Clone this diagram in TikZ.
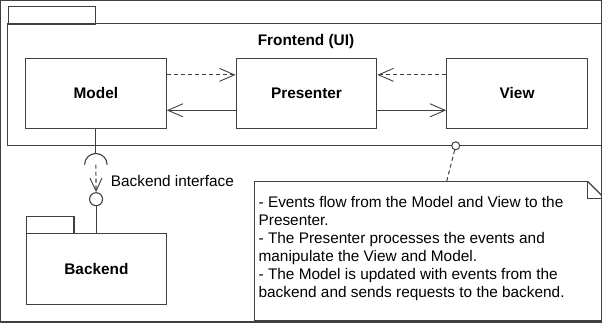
\documentclass[tikz,border=0pt]{standalone}
\usepackage{fontspec}
\setmainfont{Liberation Sans}
\usetikzlibrary{arrows.meta}
\begin{document}
\begin{tikzpicture}[x=1pt,y=-1pt,
  line width=1.1pt,
  every path/.style={draw=black!75},
  lbl/.style={font=\fontsize{15.4}{18}\selectfont},
  box/.style={draw=black!75,line width=1.1pt,minimum width=141pt,minimum height=70pt,inner sep=0pt,font=\fontsize{15.4}{18}\selectfont\bfseries},
  openhead/.style={-{Straight Barb[length=15pt,width=13pt,line width=0.9pt]}},
  dep/.style={dashed,dash pattern=on 4pt off 3pt,openhead},
  assoc/.style={openhead}]
\useasboundingbox (0,0) rectangle (602,322);
% Frontend package (right edge lies outside the picture)
\node[draw=black!75,anchor=north west,minimum width=88pt,minimum height=18pt,inner sep=0pt] (fetab) at (7,5) {};
\coordinate (feTL) at (7,23);
\coordinate (feTR) at (602,23);
\coordinate (feBL) at (7,145.5);
\coordinate (feBR) at (602,145.5);
\draw (feTR) -- (feTL) -- (feBL) -- (feBR);
\node[lbl,font=\fontsize{15.4}{18}\selectfont\bfseries] (felabel) at (306,41) {Frontend (UI)};
% components
\node[box] (model) at (95.5,93) {Model};
\node[box] (presenter) at (306.5,93) {Presenter};
\node[box] (view) at (517.5,93) {View};
\path (model.north east) ++(0,17) coordinate (m1);
\path (model.north east) ++(0,52.5) coordinate (m2);
\path (view.north west) ++(0,17) coordinate (v1);
\path (view.north west) ++(0,52.5) coordinate (v2);
\draw[dep] (m1) -- (m1 -| presenter.west);
\draw[assoc] (m2 -| presenter.west) -- (m2);
\draw[dep] (v1) -- (v1 -| presenter.east);
\draw[assoc] (v2 -| presenter.east) -- (v2);
% interface
\coordinate (sock) at (95.5,164.5);
\draw (model.south) -- (95.5,153.2);
\draw (84.2,164.5) arc[start angle=180,end angle=360,radius=11.3];
\node[circle,draw=black!75,minimum size=13pt,inner sep=0pt] (ball) at (95.7,199) {};
\draw[dashed,dash pattern=on 4pt off 3pt,-{Straight Barb[length=13pt,width=12pt,line width=0.9pt]}] (sock) -- (ball.north);
\node[lbl,anchor=west,inner sep=0pt] (iflabel) at (110,181) {Backend interface};
% Backend package
\node[draw=black!75,anchor=north west,minimum width=48pt,minimum height=17pt,inner sep=0pt] (betab) at (25,216) {};
\node[box,anchor=north west,minimum height=71pt] (backend) at (25,233) {};
\node[lbl,font=\fontsize{15.4}{18}\selectfont\bfseries] (belabel) at (backend.center) {Backend};
\draw (ball.south) -- (ball.south |- backend.north);
% note (right edge lies outside the picture)
\coordinate (nA) at (254,181);
\coordinate (nB) at (588,181);
\coordinate (nC) at (602,195);
\coordinate (nD) at (602,321);
\coordinate (nE) at (254,321);
\draw (nB) -- (nA) -- (nE) -- (nD);
\draw (nB) -- (nC);
\draw (nB) -- (588,198) -- (602,198);
\node[circle,draw=black!75,fill=white,minimum size=8pt,inner sep=0pt,line width=1pt] (anch) at (456,145.5) {};
\coordinate (ntop) at (447,181);
\draw[dashed,dash pattern=on 4pt off 3pt,line width=1pt] (anch) -- (ntop);
\node[anchor=north west,inner sep=0pt,align=left,font=\fontsize{15.4}{18.1}\selectfont] (notetext) at (258,195.5) {- Events flow from the Model and View to the\\Presenter.\\- The Presenter processes the events and\\manipulate the View and Model.\\- The Model is updated with events from the\\backend and sends requests to the backend.};
\end{tikzpicture}
\end{document}
